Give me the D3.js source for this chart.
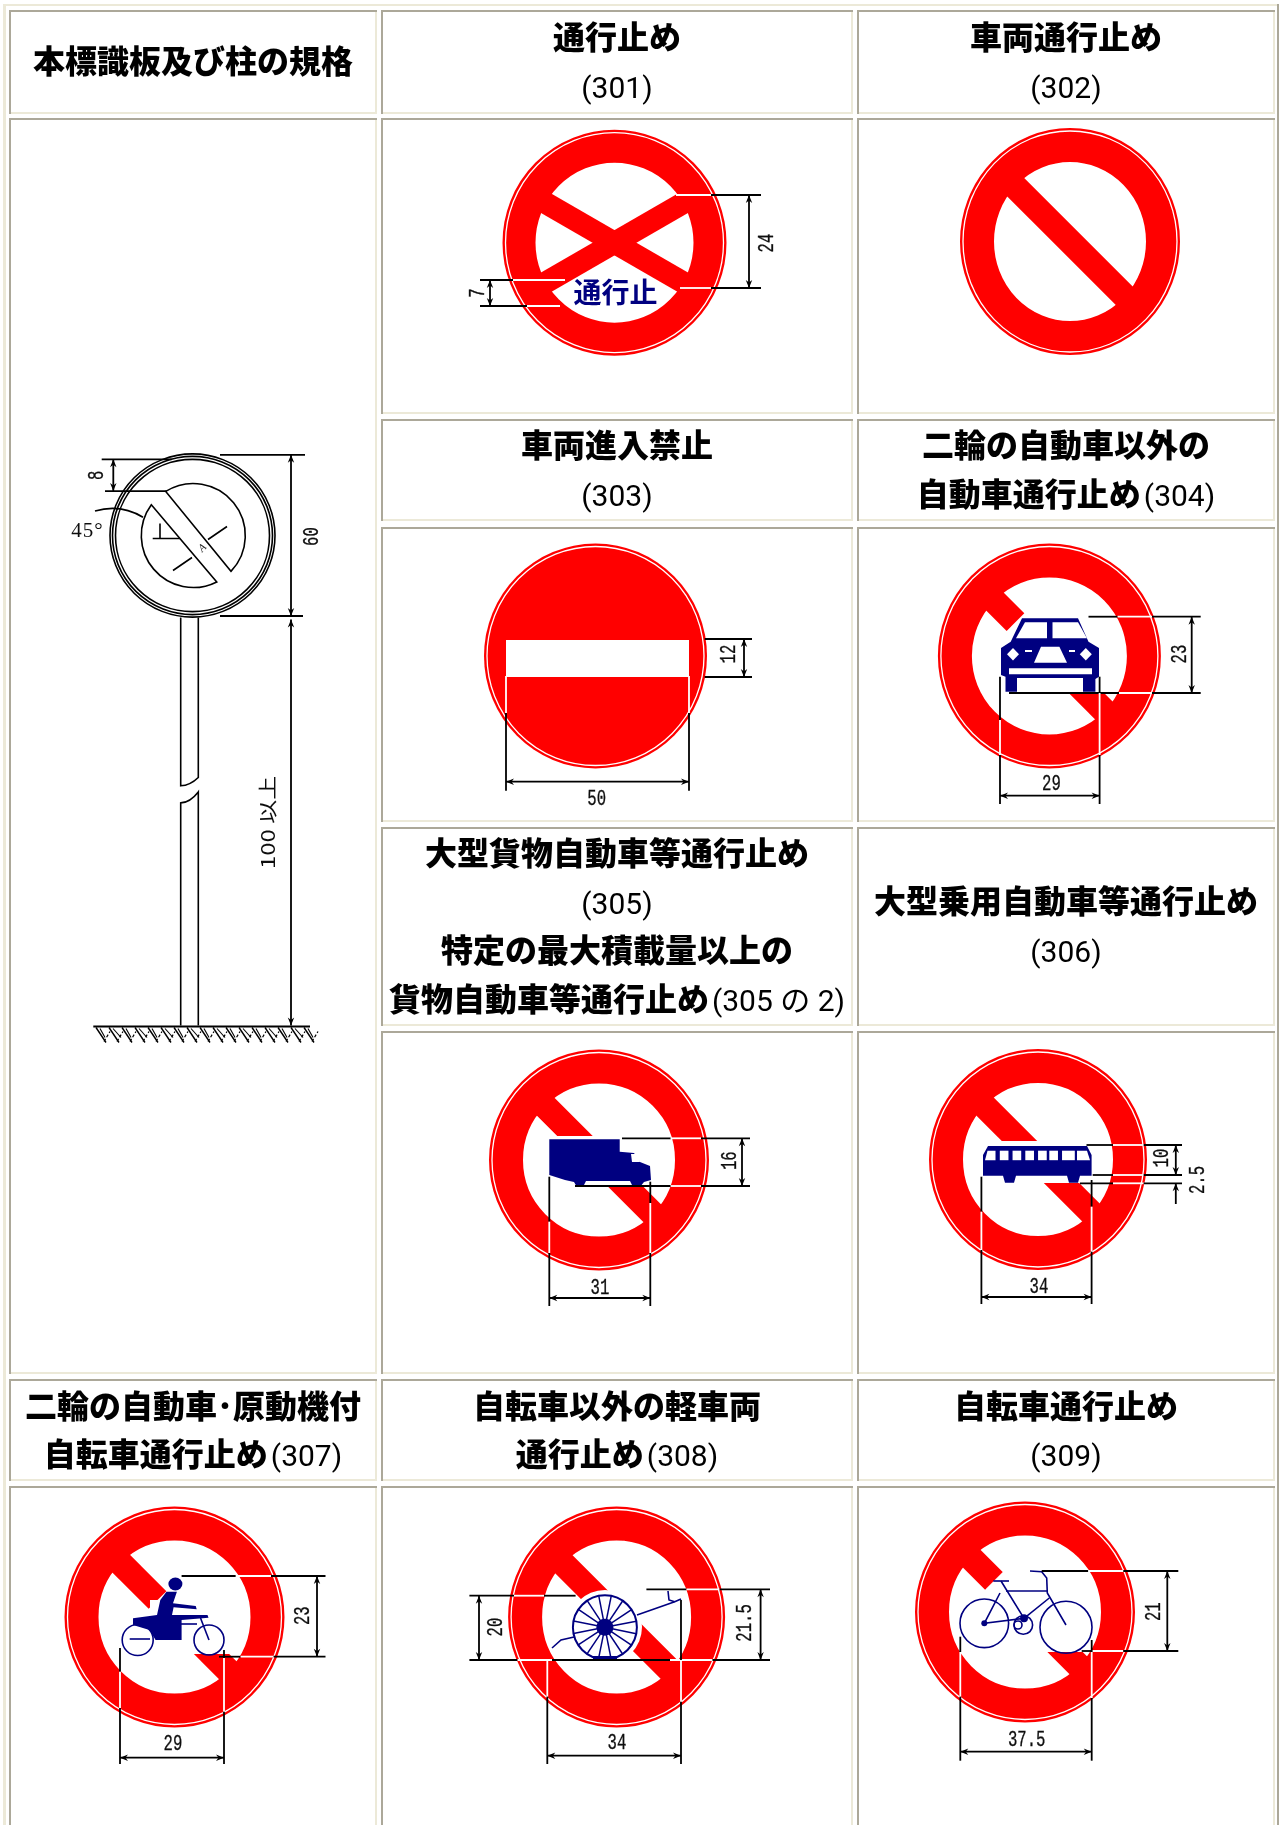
<!DOCTYPE html>
<html>
<head>
<meta charset="utf-8">
<script src="https://cdn.jsdelivr.net/npm/d3@7"></script>
<style>
  html, body { margin: 0; padding: 0; background: #fff; overflow: hidden; }
  svg { display: block; }
</style>
</head>
<body>
<div id="chart"></div>
<script>
// table text
const sheetTitle = ["本標識板及び柱の規格"];
const titles301to303 = [["通行止め", "(301)"], ["車両通行止め", "(302)"], ["車両進入禁止", "(303)"]];
const title304 = ["二輪の自動車以外の", "自動車通行止め(304)"];
const title305 = ["大型貨物自動車等通行止め", "(305)", "特定の最大積載量以上の", "貨物自動車等通行止め(305 の 2)"];
const title306 = ["大型乗用自動車等通行止め", "(306)"];
const title307 = ["二輪の自動車･原動機付", "自転車通行止め(307)"];
const title308 = ["自転車以外の軽車両", "通行止め(308)"];
const title309 = ["自転車通行止め", "(309)"];

// dimension labels, in cm, as printed
const postDims = ["8", "45°", "60", "100 以上"];
const dims301 = ["24", "7"];
const dims303 = ["12", "50"];
const dims304 = ["23", "29"];
const dims305 = ["16", "31"];
const dims306 = ["10", "2.5", "34"];
const dims307 = ["23", "29"];
const dims308 = ["20", "21.5", "34"];
const dims309 = ["21", "37.5"];

const W = 1279, H = 1825;
const RED = "#ff0000", NAVY = "#000080", DARK = "#aca899", LIGHT = "#ece9d8";

const colX = [[9, 377], [381, 853], [857, 1275]];
const rowY = [[10, 114], [118, 414], [419, 521], [527, 822], [827, 1026], [1031, 1374], [1379, 1481], [1486, 1840]];

const svg = d3.select("#chart").append("svg").attr("width", W).attr("height", H);
svg.append("defs").append("filter").attr("id", "soft")
  .attr("x", "-5%").attr("y", "-5%").attr("width", "110%").attr("height", "110%")
  .append("feGaussianBlur").attr("stdDeviation", 0.45);

// outer table frame
svg.append("rect").attr("x", 3).attr("y", 4).attr("width", 1275).attr("height", 2).attr("fill", LIGHT);
svg.append("rect").attr("x", 3).attr("y", 4).attr("width", 3).attr("height", H).attr("fill", LIGHT);
svg.append("rect").attr("x", 1277).attr("y", 4).attr("width", 2).attr("height", H).attr("fill", DARK);

// [column, row, last row if it spans]
const cells = [
  [0, 0], [1, 0], [2, 0],
  [0, 1, 5], [1, 1], [2, 1],
  [1, 2], [2, 2], [1, 3], [2, 3],
  [1, 4], [2, 4], [1, 5], [2, 5],
  [0, 6], [1, 6], [2, 6], [0, 7], [1, 7], [2, 7]
];
const cellG = svg.append("g");
cells.forEach(c => {
  const x0 = colX[c[0]][0], x1 = colX[c[0]][1];
  const y0 = rowY[c[1]][0], y1 = rowY[c[2] === undefined ? c[1] : c[2]][1];
  cellG.append("rect").attr("x", x0).attr("y", y0).attr("width", x1 - x0).attr("height", y1 - y0).attr("fill", LIGHT);
  cellG.append("path").attr("d", `M${x0},${y1}V${y0}H${x1}V${y0 + 2}H${x0 + 2}V${y1}Z`).attr("fill", DARK);
  cellG.append("rect").attr("x", x0 + 2).attr("y", y0 + 2).attr("width", x1 - x0 - 4).attr("height", y1 - y0 - 4).attr("fill", "#fff");
});

// header text: anything in brackets is set light
function title(lines, cx, ys) {
  lines.forEach((line, i) => {
    const t = svg.append("text").attr("x", cx).attr("y", ys[i]).attr("dy", "0.36em")
      .attr("text-anchor", "middle").attr("fill", "#000").attr("filter", "url(#soft)");
    line.split(/(\([^)]*\))/).filter(s => s).forEach((part, k) => {
      const light = part[0] === "(";
      t.append("tspan").text(part)
        .attr("font-family", light ? "Roboto, 'Noto Sans CJK JP'" : "'Noto Sans CJK JP'")
        .attr("font-weight", light ? 400 : 900)
        .attr("font-size", light ? 30 : 32)
        .attr("dx", k ? 3 : 0);
    });
  });
}
title(sheetTitle, 193, [67]);
title(titles301to303[0], 617, [43, 92]);
title(titles301to303[1], 1066, [43, 92]);
title(titles301to303[2], 617, [451, 500]);
title(title304, 1066, [451, 500]);
title(title305, 617, [859, 908, 956, 1005]);
title(title306, 1066, [907, 956]);
title(title307, 193, [1412, 1460]);
title(title308, 617, [1412, 1460]);
title(title309, 1066, [1412, 1460]);

const sheet = svg.append("g").attr("filter", "url(#soft)");
let art = sheet;

// bars: list of [angle, from, to] measured along the bar from the centre
function sign(cx, cy, rx, ry, bars, mask, hole) {
  const g = art.append("g");
  const ring = hole || 34;
  g.append("ellipse").attr("cx", cx).attr("cy", cy).attr("rx", rx - ring).attr("ry", ry - ring).attr("fill", "#fff");
  bars.forEach(b => {
    const c = Math.cos(b[0] * Math.PI / 180), s = Math.sin(b[0] * Math.PI / 180);
    g.append("line").attr("x1", cx + b[1] * c).attr("y1", cy + b[1] * s)
      .attr("x2", cx + b[2] * c).attr("y2", cy + b[2] * s)
      .attr("stroke", RED).attr("stroke-width", b[3] || 25);
  });
  if (mask) mask(g);
  g.append("ellipse").attr("cx", cx).attr("cy", cy)
    .attr("rx", rx - ring / 2).attr("ry", ry - ring / 2)
    .attr("fill", "none").attr("stroke", RED).attr("stroke-width", ring);
  g.append("ellipse").attr("cx", cx).attr("cy", cy).attr("rx", rx - 3).attr("ry", ry - 3)
    .attr("fill", "none").attr("stroke", "#fff").attr("stroke-width", 1.3);
  return g;
}
const whiteRect = (x, y, w, h) => g => g.append("rect").attr("x", x).attr("y", y).attr("width", w).attr("height", h).attr("fill", "#fff");
const poly = pts => "M" + pts.join("L") + "Z";
const lineGen = d3.line();
const LW = 1.8;

// extension lines, alternately black, white, black
function hext(y, xs) {
  d3.pairs(xs).forEach((p, i) => art.append("line").attr("x1", p[0]).attr("x2", p[1]).attr("y1", y).attr("y2", y)
    .attr("stroke", i % 2 ? "#fff" : "#000").attr("stroke-width", LW));
}
function vext(x, ys) {
  d3.pairs(ys).forEach((p, i) => art.append("line").attr("x1", x).attr("x2", x).attr("y1", p[0]).attr("y2", p[1])
    .attr("stroke", i % 2 ? "#fff" : "#000").attr("stroke-width", LW));
}
function arrowHead(x, y, a) {
  art.append("path").attr("transform", `translate(${x},${y}) rotate(${a})`)
    .attr("d", "M0,0L8,-3.2L5.5,0L8,3.2Z").attr("fill", "#000");
}
function vdim(x, y0, y1) {
  art.append("line").attr("x1", x).attr("x2", x).attr("y1", y0).attr("y2", y1).attr("stroke", "#000").attr("stroke-width", LW);
  arrowHead(x, y0, 90);
  arrowHead(x, y1, -90);
}
function hdim(y, x0, x1) {
  art.append("line").attr("x1", x0).attr("x2", x1).attr("y1", y).attr("y2", y).attr("stroke", "#000").attr("stroke-width", LW);
  arrowHead(x0, y, 0);
  arrowHead(x1, y, 180);
}
function label(text, x, y, rot) {
  art.append("text").text(text)
    .attr("transform", `translate(${x},${y}) rotate(${rot || 0}) scale(0.92,1.35)`)
    .attr("text-anchor", "middle").attr("dy", "0.34em")
    .attr("font-family", "'Liberation Mono'").attr("font-size", 17).attr("fill", "#111")
    .attr("stroke", "#111").attr("stroke-width", 0.25);
}

// 301
sign(614.5, 242.7, 112, 113, [[30, -95, 95, 22], [-30, -95, 95, 22]], null, 33);
art.append("text").text("通行止").attr("x", 615.5).attr("y", 293).attr("dy", "0.36em").attr("text-anchor", "middle")
  .attr("font-family", "'Noto Sans CJK JP'").attr("font-weight", 700).attr("font-size", 28).attr("fill", NAVY);
hext(195, [676, 676, 711, 761]);
hext(288, [680, 680, 711, 761]);
vdim(749, 195, 288);
label(dims301[0], 765, 243, -90);
hext(280, [480, 513, 565]);
hext(306, [480, 527, 560]);
vdim(490, 280, 306);
label(dims301[1], 476, 293, -90);

// 302
sign(1070, 241.5, 110, 113.5, [[45, -96, 96]]);

// 303
{
  const g = art.append("g");
  g.append("ellipse").attr("cx", 595.5).attr("cy", 656).attr("rx", 111.5).attr("ry", 112.5).attr("fill", RED);
  g.append("ellipse").attr("cx", 595.5).attr("cy", 656).attr("rx", 108.5).attr("ry", 109.5).attr("fill", "none").attr("stroke", "#fff").attr("stroke-width", 1.3);
  g.append("rect").attr("x", 506).attr("y", 640).attr("width", 183).attr("height", 37).attr("fill", "#fff");
}
hext(639, [704.7, 752]);
hext(677, [704.7, 752]);
vdim(744, 639, 677);
label(dims303[0], 727, 654, -90);
vext(506, [676, 676, 713, 790.7]);
vext(689, [676, 676, 713, 790.7]);
hdim(781.7, 506, 689);
label(dims303[1], 596.7, 797);

// 304 car
sign(1049.4, 656, 111.5, 112.5, [[45, -96, -48], [45, 0, 96]], whiteRect(1000, 640, 125, 53));
art.append("path").attr("fill", NAVY).attr("d", poly([[1022, 618.3], [1078, 618.3], [1088.5, 641.7], [1099, 648], [1099, 676.7], [1095.4, 679], [1095.4, 691.7], [1083, 691.7], [1083, 678], [1017, 678], [1017, 691.7], [1005.5, 691.7], [1005.5, 676.7], [1001, 675], [1001, 648], [1010.7, 641.7]]));
[[[1025, 622.3], [1047, 622.3], [1047, 638.3], [1016, 638.3]],
 [[1052.5, 622.3], [1078, 622.3], [1087, 638.3], [1052.5, 638.3]],
 [[1041, 646.7], [1059.4, 646.7], [1067, 662.7], [1034, 662.7]],
 [[1009, 668.3], [1092, 668.3], [1092, 674.3], [1009, 674.3]],
 [[1013, 648], [1019, 654.3], [1013, 660.5], [1007, 654.3]],
 [[1085.8, 648], [1091.8, 654.3], [1085.8, 660.5], [1079.8, 654.3]],
 [[1025, 650], [1032, 650], [1032, 652], [1025, 652]],
 [[1069, 650], [1075, 650], [1075, 652], [1069, 652]]
].forEach(p => art.append("path").attr("d", poly(p)).attr("fill", "#fff"));
hext(616.7, [1088.5, 1117.6, 1152, 1200.7]);
hext(693, [1009, 1119, 1152, 1200.7]);
vdim(1191.7, 616.7, 693);
label(dims304[0], 1178.5, 654, -90);
vext(1000, [676.7, 720, 755, 804]);
vext(1099.6, [676.7, 693, 755, 804]);
hdim(795.7, 1000, 1099.6);
label(dims304[1], 1051.4, 781.7);

// 305 truck
sign(599, 1160, 110, 110.5, [[45, -96, 96]], whiteRect(549, 1136, 108, 51));
art.append("path").attr("fill", NAVY).attr("d", poly([[549.3, 1139.3], [619.7, 1139.3], [619.7, 1151.7], [634, 1153], [640, 1162], [650, 1166], [651, 1180], [644, 1182], [640, 1187], [577, 1187], [574, 1182], [565, 1180], [549.3, 1175]]));
art.append("path").attr("fill", "#fff").attr("d", poly([[631, 1154], [638, 1154], [640, 1162], [632, 1162]]));
art.append("path").attr("fill", "#fff").attr("d", poly([[586, 1181], [630, 1181], [632, 1185], [584, 1185]]));
hext(1138.3, [622, 670.7, 701, 750]);
hext(1186, [575, 670.7, 701, 750]);
vdim(742, 1138.3, 1186);
label(dims305[0], 728, 1160.7, -90);
vext(549.3, [1176.7, 1221.7, 1253, 1306]);
vext(650.3, [1181.7, 1203, 1253, 1306]);
hdim(1298, 549.3, 650.3);
label(dims305[1], 600, 1286);

// 306 bus
sign(1038, 1159.5, 109, 110.5, [[45, -96, 96]], whiteRect(981, 1141, 114, 42));
art.append("path").attr("fill", NAVY).attr("d", poly([[988, 1146], [1087, 1146], [1091.6, 1155], [1091.6, 1175.7], [1080, 1175.7], [1078, 1182.7], [1069, 1182.7], [1067, 1175.7], [1016, 1175.7], [1014, 1182.7], [1005, 1182.7], [1003, 1175.7], [983, 1175.7], [983, 1155]]));
[[1058, 1075], [1083, 1100], [1108, 1125], [1133, 1150], [1155, 1172], [1180, 1205]].forEach(w => {
  art.append("rect").attr("x", 460 + w[0] / 1.96).attr("y", 1150.7).attr("width", (w[1] - w[0]) / 1.96).attr("height", 9.5).attr("fill", "#fff");
});
art.append("path").attr("fill", "#fff").attr("d", poly([[987.5, 1150.7], [995.5, 1150.7], [995.5, 1160.2], [985, 1160.2]]));
art.append("path").attr("fill", "#fff").attr("d", poly([[1077, 1150.7], [1087, 1150.7], [1090, 1160.2], [1077, 1160.2]]));
hext(1145, [1086.5, 1113, 1143.7, 1182]);
hext(1175, [1092.7, 1113, 1143.7, 1182]);
hext(1183.3, [1080, 1113, 1143.7, 1182]);
vdim(1175.8, 1145, 1175);
vext(1175.8, [1183.3, 1204]);
arrowHead(1175.8, 1183.3, 90);
label(dims306[0], 1160.5, 1158, -90);
label(dims306[1], 1196, 1180, -90);
vext(981.4, [1176.7, 1211.7, 1250, 1304]);
vext(1091.6, [1180, 1206.7, 1251.7, 1304]);
hdim(1297, 981.4, 1091.6);
label(dims306[2], 1039, 1285);

// 307 moped
sign(174.5, 1617, 110, 110.5, [[45, -96, -24], [45, 0, 96]], whiteRect(150, 1600, 95, 54));
art.append("path").attr("fill", NAVY).attr("d", poly([[166.5, 1591.7], [176.9, 1591.7], [173, 1603.3], [195.7, 1606], [196.7, 1609.3], [173.6, 1607.3], [172, 1615], [207.5, 1615], [208.5, 1617.7], [181.6, 1620], [181.6, 1640], [155.6, 1640], [149.5, 1630], [133, 1625], [133, 1618.3], [157, 1615], [160.3, 1600]]));
art.append("ellipse").attr("cx", 175.4).attr("cy", 1584).attr("rx", 7).attr("ry", 6.5).attr("fill", NAVY);
[[137.7, 1640, 15.5], [209, 1640, 15]].forEach(w => art.append("circle").attr("cx", w[0]).attr("cy", w[1]).attr("r", w[2])
  .attr("fill", "none").attr("stroke", NAVY).attr("stroke-width", 1.6));
[[[200.5, 1618], [209, 1640]], [[129.7, 1639], [150, 1639]], [[181, 1624], [197, 1624]]].forEach(s =>
  art.append("path").attr("d", lineGen(s)).attr("stroke", NAVY).attr("stroke-width", 1.6).attr("fill", "none"));
hext(1576, [181.6, 235.8, 271, 325.5]);
hext(1656.7, [219, 240.6, 273.6, 325.5]);
vdim(317, 1576, 1656.7);
label(dims307[0], 301, 1615.7, -90);
vext(120, [1648, 1671.7, 1708, 1764]);
vext(224, [1650, 1658, 1711.7, 1764]);
hdim(1757.7, 120, 224);
label(dims307[1], 173, 1742);

// 308 cart
sign(616.6, 1617, 108.5, 110.5, [[45, -96, 96]], g => g.append("circle").attr("cx", 605).attr("cy", 1627).attr("r", 37).attr("fill", "#fff"));
art.append("circle").attr("cx", 604.9).attr("cy", 1627.3).attr("r", 32).attr("fill", "none").attr("stroke", NAVY).attr("stroke-width", 2);
art.append("circle").attr("cx", 604.9).attr("cy", 1627.3).attr("r", 8.5).attr("fill", NAVY);
d3.range(16).forEach(i => {
  const a = i * Math.PI / 8 + 0.2;
  art.append("line").attr("x1", 604.9).attr("y1", 1627.3)
    .attr("x2", 604.9 + 32 * Math.cos(a)).attr("y2", 1627.3 + 32 * Math.sin(a))
    .attr("stroke", NAVY).attr("stroke-width", 1.5);
});
[[[552, 1648], [561, 1640], [574, 1637]], [[637, 1615], [674.7, 1601.7], [681, 1599]], [[668, 1591], [669, 1600], [674.7, 1601.7]]].forEach(s =>
  art.append("path").attr("fill", "none").attr("stroke", NAVY).attr("stroke-width", 1.6).attr("d", lineGen(s)));
art.append("rect").attr("x", 593).attr("y", 1656).attr("width", 24).attr("height", 4).attr("fill", NAVY);
hext(1595.7, [469.4, 514, 544, 575.6]);
hext(1660, [469.4, 517.6, 552, 670, 712.5, 770]);
hext(1589.3, [646.4, 686.5, 719.6, 770]);
vdim(479, 1595.7, 1660);
vdim(760.6, 1589.3, 1660);
label(dims308[0], 494, 1627, -90);
label(dims308[1], 743, 1623, -90);
vext(547.3, [1660, 1660, 1696.7, 1764]);
vext(681, [1600, 1660, 1701.7, 1764]);
hdim(1755.7, 547.3, 681);
label(dims308[2], 617, 1740.7);

// 309 bicycle
sign(1025, 1612, 110, 110.5, [[45, -96, -44], [45, 0, 96]], whiteRect(1000, 1600, 105, 52));
[[984.3, 1623.3, 24.3], [1066, 1627.3, 26], [1023.3, 1625, 9.3], [1018, 1625, 4]].forEach(w =>
  art.append("circle").attr("cx", w[0]).attr("cy", w[1]).attr("r", w[2]).attr("fill", "none").attr("stroke", NAVY).attr("stroke-width", 1.6));
[[[993.3, 1581], [1009, 1581]], [[1001, 1581], [1024, 1618.3], [984.3, 1623.3], [1000, 1593]],
 [[1006, 1591], [1047, 1591]], [[1024, 1618.3], [1049.3, 1598]],
 [[1030, 1571], [1041.7, 1571.7], [1046.7, 1578], [1047.3, 1593], [1066, 1625]]
].forEach(s => art.append("path").attr("d", lineGen(s)).attr("stroke", NAVY).attr("stroke-width", 1.6).attr("fill", "none"));
art.append("circle").attr("cx", 1024).attr("cy", 1618.3).attr("r", 4).attr("fill", NAVY);
art.append("circle").attr("cx", 984.3).attr("cy", 1623.3).attr("r", 3).attr("fill", NAVY);
hext(1571, [1041.7, 1088.3, 1123.3, 1178.3]);
hext(1651, [1081.7, 1091.7, 1123.3, 1178.3]);
vdim(1167.3, 1571, 1651);
label(dims309[0], 1151.7, 1611.7, -90);
vext(960.3, [1636.7, 1652, 1696.7, 1760.7]);
vext(1091.7, [1640, 1652, 1698, 1760.7]);
hdim(1751.7, 960.3, 1091.7);
label(dims309[1], 1026.7, 1738.3);

// sign and post drawing in the first column
art = sheet.append("g").attr("transform", "translate(0,1.5)");
const post = art.append("g").attr("fill", "none").attr("stroke", "#000").attr("stroke-width", 1.6);
[82.5, 80, 77].forEach(k => post.append("ellipse").attr("cx", 192.5).attr("cy", 534).attr("rx", k).attr("ry", k - 0.9));
const deg = a => a * Math.PI / 180;
[[-122, 43.6], [63.2, 216.2]].forEach(a => {
  const p = d3.path();
  p.arc(193.3, 534, 52, deg(a[0]), deg(a[1]));
  p.closePath();
  post.append("path").attr("d", p.toString());
});
post.append("path").attr("d", "M180.7,616V784.3Q190,784 198.3,776V616");
post.append("path").attr("d", "M180.7,1024V801.4Q190,801 198.3,790.4V1024");
post.append("line").attr("x1", 93.3).attr("x2", 310).attr("y1", 1025).attr("y2", 1025).attr("stroke-width", 2);
d3.range(96, 306, 13).forEach((x, i) => {
  post.append("line").attr("x1", x).attr("y1", 1026).attr("x2", x + 10).attr("y2", 1041).attr("stroke-width", 1.4);
  post.append("line").attr("x1", x + 8).attr("y1", 1040).attr("x2", x + 14).attr("y2", 1030).attr("stroke-width", 1.2).attr("stroke-dasharray", "3 2");
  post.append("line").attr("x1", x + 4).attr("y1", 1027).attr("x2", x + (i % 2 ? 12 : 9)).attr("y2", 1036).attr("stroke-width", 1.1);
});
hext(457.8, [101.7, 171.7]);
hext(489.6, [105, 166.7]);
vdim(113.3, 457.8, 489.6);
label(postDims[0], 95, 473.7, -90);
art.append("text").text(postDims[1]).attr("x", 87.5).attr("y", 528).attr("dy", "0.35em").attr("text-anchor", "middle")
  .attr("font-family", "'Liberation Serif'").attr("font-size", 21).attr("letter-spacing", 1).attr("fill", "#111");
post.append("path").attr("d", "M95,509.6Q120,502 143,515.7");
post.append("path").attr("d", "M152.7,537H180M160,522V537");
post.append("path").attr("d", "M173,569L192,556M208,538L227,525");
art.append("text").text("A").attr("transform", "translate(202,546) rotate(-45)").attr("text-anchor", "middle").attr("dy", "0.35em")
  .attr("font-family", "'Liberation Serif'").attr("font-style", "italic").attr("font-size", 11).attr("fill", "#222");
hext(453.3, [220, 305]);
hext(614.5, [220, 303]);
vdim(291, 453.3, 614.5);
vdim(291, 618, 1024);
label(postDims[2], 310, 535, -90);
art.append("text").text(postDims[3]).attr("transform", "translate(268,821) rotate(-90) scale(1.2,0.95)")
  .attr("text-anchor", "middle").attr("dy", "0.35em").attr("font-family", "'Noto Sans CJK JP'").attr("font-size", 20).attr("fill", "#111");
</script>
</body>
</html>
